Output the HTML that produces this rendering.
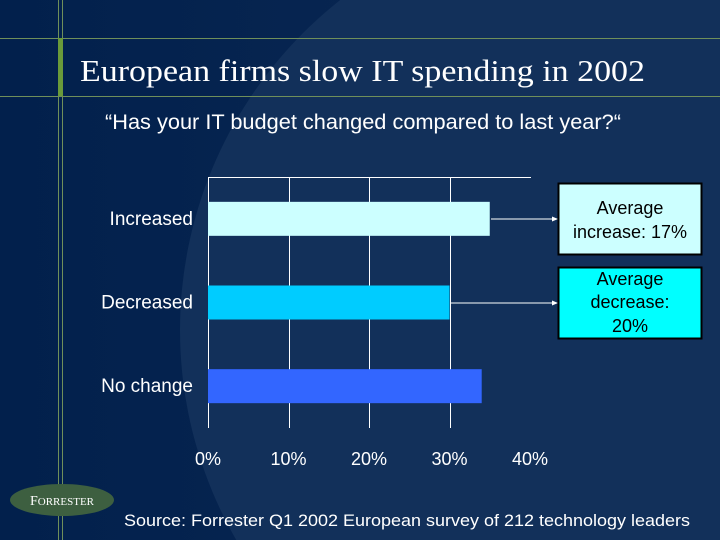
<!DOCTYPE html>
<html><head><meta charset="utf-8"><style>
html,body{margin:0;width:720px;height:540px;overflow:hidden;background:#0d2652;font-family:"Liberation Sans",sans-serif}
svg{display:block}
</style></head><body>
<svg width="720" height="540">
<defs><linearGradient id="bg" x1="0" x2="1"><stop offset="0" stop-color="#02204c"/><stop offset="1" stop-color="#0c2a55"/></linearGradient></defs>
<rect width="720" height="540" fill="url(#bg)"/>
<circle cx="600" cy="330" r="420" fill="#12305a"/>
<line x1="0" y1="38.5" x2="720" y2="38.5" stroke="#6f8f5a" stroke-width="1"/>
<line x1="0" y1="96.5" x2="720" y2="96.5" stroke="#6f8f5a" stroke-width="1"/>
<line x1="58.5" y1="0" x2="58.5" y2="540" stroke="#6f8f5a"/>
<line x1="62.5" y1="0" x2="62.5" y2="540" stroke="#6f8f5a"/>
<rect x="58" y="38" width="5" height="58" fill="#6a9a3a"/>
<text x="80" y="81" fill="#fff" font-family="Liberation Serif,serif" font-size="31" textLength="565" lengthAdjust="spacingAndGlyphs">European firms slow IT spending in 2002</text>
<text x="105" y="129" fill="#fff" font-size="21" textLength="516" lengthAdjust="spacingAndGlyphs">“Has your IT budget changed compared to last year?“</text>
<g id="chart"></g>
<line x1="491" y1="219" x2="556" y2="219" stroke="#fff"/>
<polygon points="558,219 552,216.5 552,221.5" fill="#fff"/>
<line x1="450" y1="303" x2="556" y2="303" stroke="#fff"/>
<polygon points="558,303 552,300.5 552,305.5" fill="#fff"/>
<rect x="558.5" y="183.5" width="143" height="71" fill="#ccffff" stroke="#000" stroke-width="2"/>
<text x="630" y="214" text-anchor="middle" font-size="18" fill="#000">Average</text>
<text x="630" y="238" text-anchor="middle" font-size="18" fill="#000">increase: 17%</text>
<rect x="558.5" y="267.5" width="143" height="71" fill="#00ffff" stroke="#000" stroke-width="2"/>
<text x="630" y="285" text-anchor="middle" font-size="18" fill="#000">Average</text>
<text x="630" y="308" text-anchor="middle" font-size="18" fill="#000">decrease:</text>
<text x="630" y="332" text-anchor="middle" font-size="18" fill="#000">20%</text>
<ellipse cx="62" cy="500" rx="52" ry="16" fill="#3d5f40"/>
<text x="62" y="505" text-anchor="middle" fill="#fff" font-family="Liberation Serif,serif" font-size="14">F<tspan font-size="11">ORRESTER</tspan></text>
<text x="124" y="526" fill="#fff" font-size="17" textLength="566" lengthAdjust="spacingAndGlyphs">Source: Forrester Q1 2002 European survey of 212 technology leaders</text>
</svg>
<script>
const categories=["Increased","Decreased","No change"];
const values=[35,30,34];
const ticks=[0,10,20,30,40];
const tickLabels=["0%","10%","20%","30%","40%"];
const colors=["#ccffff","#00ccff","#3366ff"];
const NS="http://www.w3.org/2000/svg";
const g=document.getElementById('chart');
const x0=208,x1=530,xMax=40;
const xs=v=>x0+(x1-x0)*v/xMax;
const plotTop=177,plotBottom=428,band=(plotBottom-plotTop)/3;
function el(t,a){const e=document.createElementNS(NS,t);for(const k in a)e.setAttribute(k,a[k]);g.appendChild(e);return e;}
let e=el('line',{x1:x0,y1:plotTop+0.5,x2:x1+1,y2:plotTop+0.5,stroke:'#fff'});


ticks.forEach((t,i)=>{
  if(t<xMax){const l=el('line',{x1:Math.round(xs(t))+0.5,y1:plotTop,x2:Math.round(xs(t))+0.5,y2:plotBottom,stroke:'#fff'});
  
  }
  const tx=el('text',{x:xs(t),y:465,'text-anchor':'middle',fill:'#fff','font-size':18});
  tx.textContent=tickLabels[i];
  
  
});
categories.forEach((c,i)=>{
  const cy=plotTop+band*(i+0.5);
  const r=el('rect',{x:x0,y:cy-17,width:xs(values[i])-x0,height:34,fill:colors[i]});
  
  
  const t=el('text',{x:193,y:cy+6,'text-anchor':'end',fill:'#fff','font-size':19});
  t.textContent=c;
  
  
});
</script>
</body></html>
